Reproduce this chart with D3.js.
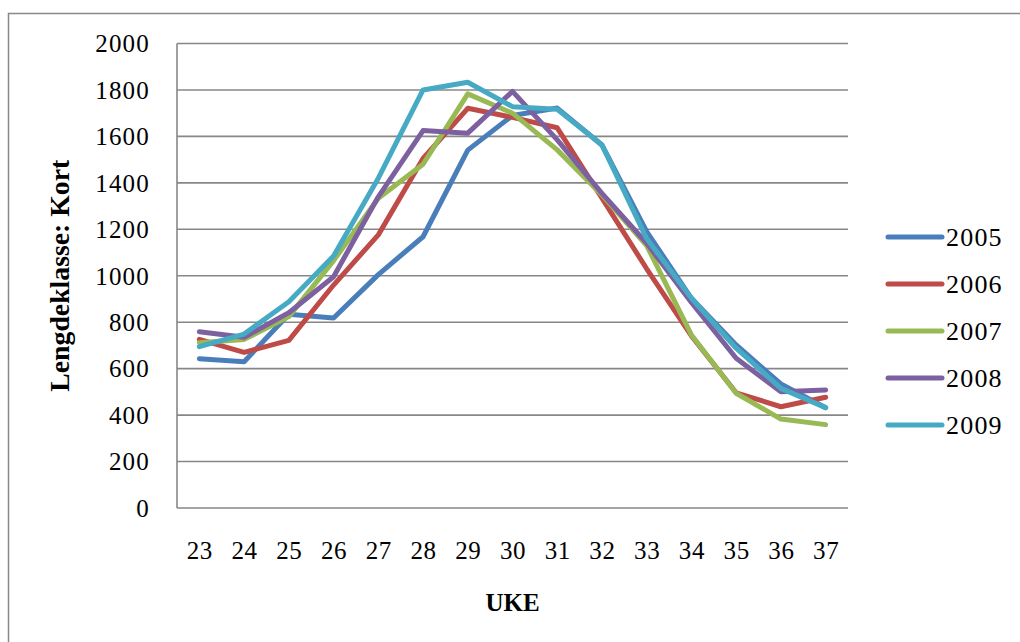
<!DOCTYPE html>
<html>
<head>
<meta charset="utf-8">
<script src="https://cdn.jsdelivr.net/npm/d3@7"></script>
<style>
  html, body { margin: 0; padding: 0; background: #fff; }
  svg { display: block; }
  text { font-family: "Liberation Serif", "DejaVu Serif", serif; fill: #000; }
</style>
</head>
<body>
<svg id="chart" width="1020" height="642"></svg>
<script>
// Weekly counts per length class ("Kort"), week 23–37, 2005–2009
const weeks = [23, 24, 25, 26, 27, 28, 29, 30, 31, 32, 33, 34, 35, 36, 37];
const years = ["2005", "2006", "2007", "2008", "2009"];
const v2005 = [643, 630, 834, 818, 1005, 1168, 1541, 1690, 1722, 1563, 1190, 903, 702, 534, 432];
const v2006 = [726, 670, 722, 960, 1176, 1505, 1721, 1682, 1637, 1334, 1030, 741, 496, 436, 477];
const v2007 = [712, 726, 824, 1065, 1334, 1480, 1783, 1700, 1542, 1348, 1130, 745, 494, 383, 359];
const v2008 = [759, 735, 841, 996, 1340, 1625, 1614, 1794, 1585, 1355, 1140, 885, 645, 501, 508];
const v2009 = [695, 749, 888, 1085, 1420, 1800, 1833, 1728, 1717, 1563, 1160, 903, 688, 515, 432];
const yTicks = [0, 200, 400, 600, 800, 1000, 1200, 1400, 1600, 1800, 2000];
const colors = ["#4A7EBB", "#BE4B48", "#98B954", "#7D60A0", "#46AAC5"];

const seriesValues = [v2005, v2006, v2007, v2008, v2009];
const series = years.map((y, i) => ({ name: y, color: colors[i], values: seriesValues[i] }));

const svg = d3.select("#chart");
const plot = { left: 177, right: 848, top: 43.5, bottom: 508 };

// outer chart frame
svg.append("rect")
  .attr("x", 8.5).attr("y", 13.5)
  .attr("width", 1030).attr("height", 660)
  .attr("fill", "none").attr("stroke", "#898989").attr("stroke-width", 1.5);

const x = d3.scalePoint().domain(weeks).range([plot.left, plot.right]).padding(0.5);
const y = d3.scaleLinear().domain([0, 2000]).range([plot.bottom, plot.top]);

// horizontal gridlines
svg.append("g").selectAll("line").data(yTicks).join("line")
  .attr("x1", plot.left).attr("x2", plot.right)
  .attr("y1", d => y(d)).attr("y2", d => y(d))
  .attr("stroke", "#878787").attr("stroke-width", 1.6);

// value axis line
svg.append("line")
  .attr("x1", plot.left).attr("x2", plot.left)
  .attr("y1", plot.top).attr("y2", plot.bottom)
  .attr("stroke", "#878787").attr("stroke-width", 1.6);

// y tick labels
const yAxis = svg.append("g")
  .attr("transform", `translate(${plot.left},0)`)
  .call(d3.axisLeft(y).tickValues(yTicks).tickSize(0).tickPadding(27).tickFormat(d3.format("d")));
yAxis.select(".domain").remove();
yAxis.selectAll("text")
  .attr("font-family", "Liberation Serif")
  .attr("font-size", 25)
  .attr("letter-spacing", 1.2)
  .attr("dy", "0.33em");

// x tick labels
const xAxis = svg.append("g")
  .attr("transform", `translate(0,${plot.bottom})`)
  .call(d3.axisBottom(x).tickSize(0).tickPadding(0));
xAxis.select(".domain").remove();
xAxis.selectAll("text")
  .attr("font-family", "Liberation Serif")
  .attr("font-size", 25)
  .attr("letter-spacing", 0.6)
  .attr("y", 51)
  .attr("dy", 0);

// axis titles
svg.append("text")
  .attr("x", (plot.left + plot.right) / 2).attr("y", 611)
  .attr("text-anchor", "middle")
  .attr("font-size", 25).attr("font-weight", "bold")
  .text("UKE");

svg.append("text")
  .attr("transform", `translate(69,${(plot.top + plot.bottom) / 2}) rotate(-90)`)
  .attr("text-anchor", "middle")
  .attr("font-size", 27).attr("font-weight", "bold")
  .attr("textLength", 232).attr("lengthAdjust", "spacingAndGlyphs")
  .text("Lengdeklasse: Kort");

// series lines
const line = d3.line()
  .x((d, i) => x(weeks[i]))
  .y(d => y(d));

svg.append("g").selectAll("path").data(series).join("path")
  .attr("d", d => line(d.values))
  .attr("fill", "none")
  .attr("stroke", d => d.color)
  .attr("stroke-width", 5)
  .attr("stroke-linejoin", "round")
  .attr("stroke-linecap", "round");

// legend
const legend = svg.append("g").selectAll("g").data(series).join("g")
  .attr("transform", (d, i) => `translate(888,${237 + i * 47})`);
legend.append("line")
  .attr("x1", 0).attr("x2", 54)
  .attr("stroke", d => d.color).attr("stroke-width", 5)
  .attr("stroke-linecap", "round");
legend.append("text")
  .attr("x", 58).attr("y", 9)
  .attr("font-size", 26).attr("letter-spacing", 1.2)
  .text(d => d.name);
</script>
</body>
</html>
